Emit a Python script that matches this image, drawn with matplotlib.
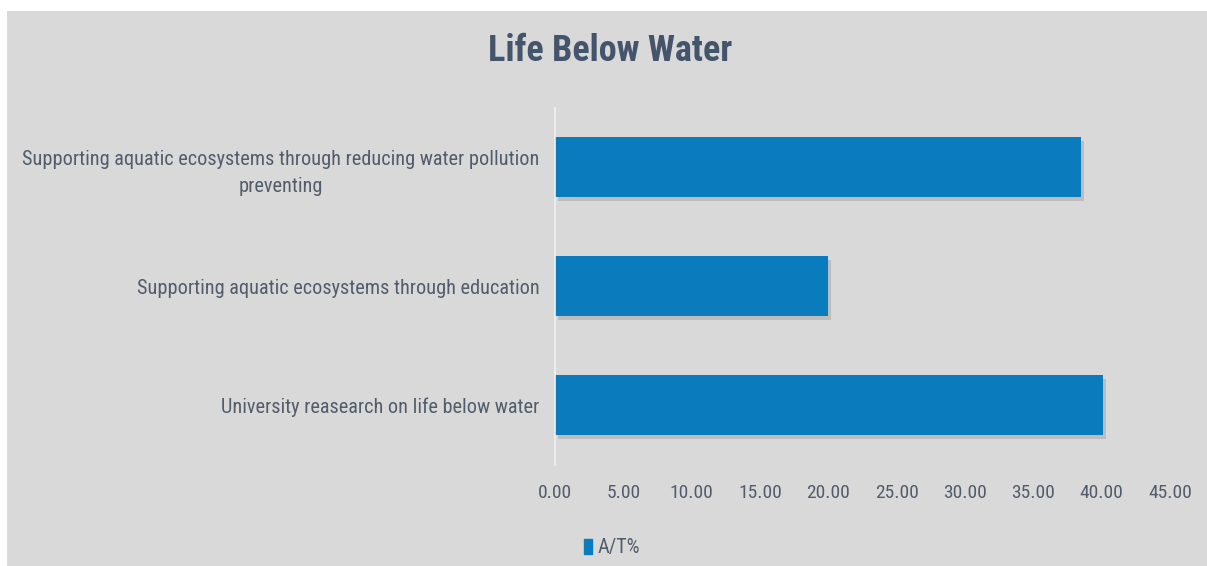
import matplotlib.pyplot as plt
import matplotlib.patheffects as pe
from matplotlib.patches import Rectangle, Patch
from matplotlib import font_manager

categories = [
    "University reasearch on life below water",
    "Supporting aquatic ecosystems through education",
    "Supporting aquatic ecosystems through reducing water pollution\npreventing",
]
values = [40.1, 20.0, 38.5]
x_ticks = [0, 5, 10, 15, 20, 25, 30, 35, 40, 45]
series_name = "A/T%"

BAR = "#0a7bbd"
BG = "#d9d9d9"
TXT = "#525c6b"
TITLE = "#44546a"

names = {f.name for f in font_manager.fontManager.ttflist}
family = next((n for n in ["Liberation Sans Narrow", "Roboto Condensed", "Lato"] if n in names),
              "DejaVu Sans")
plt.rcParams["font.family"] = [family, "DejaVu Sans"]

fig = plt.figure(figsize=(12.07, 5.66), dpi=100)
fig.patch.set_facecolor("white")
# grey chart area with a thin white margin at top and left
fig.patches.append(Rectangle((7 / 1207, 0), 1 - 7 / 1207, 1 - 11 / 566,
                             transform=fig.transFigure, facecolor=BG,
                             edgecolor="none", zorder=-5))

ax = fig.add_axes([555 / 1207, 1 - 464.5 / 566, 615 / 1207, 357 / 566])
ax.set_facecolor("none")

bars = ax.barh(range(len(values)), values, height=0.5, color=BAR,
               path_effects=[pe.SimplePatchShadow(offset=(2, -3), shadow_rgbFace="#8a8a8a",
                                                  alpha=0.35), pe.Normal()])

ax.set_xlim(0, 45)
ax.set_ylim(-0.5, 2.5)
ax.set_xticks(x_ticks)
ax.set_xticklabels([f"{t:.2f}" for t in x_ticks], color=TXT, fontsize=14)
ax.set_yticks(range(len(categories)))
ax.set_yticklabels(categories, color=TXT, fontsize=14.6, multialignment="center",
                   linespacing=1.55)
ax.tick_params(axis="both", length=0)
ax.tick_params(axis="x", pad=14)
ax.tick_params(axis="y", pad=11)

for side in ["top", "right", "bottom"]:
    ax.spines[side].set_visible(False)
ax.spines["left"].set_color("#eef0f3")
ax.spines["left"].set_linewidth(1.2)

fig.text(610 / 1207, 1 - 51 / 566, "Life Below Water", ha="center", va="center",
         fontsize=26, fontweight="bold", color=TITLE)

fig.legend(handles=[Patch(color=BAR)], labels=[series_name], loc="center",
           bbox_to_anchor=(612 / 1207, 1 - 548 / 566), frameon=False,
           fontsize=14.6, labelcolor=TXT, handlelength=0.4, handleheight=0.8,
           handletextpad=0.3)

fig.savefig("out.png", dpi=100, facecolor=fig.get_facecolor())
